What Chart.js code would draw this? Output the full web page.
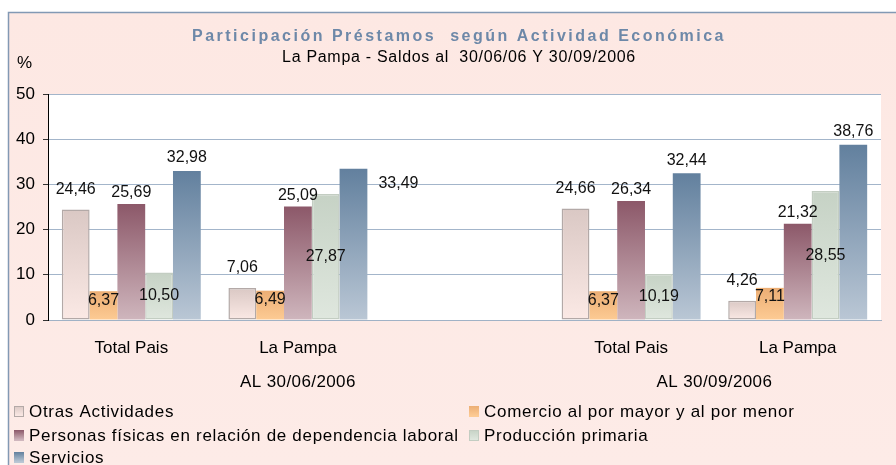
<!DOCTYPE html>
<html>
<head>
<meta charset="utf-8">
<script src="https://cdn.jsdelivr.net/npm/chart.js@4.4.1/dist/chart.umd.min.js"></script>
<style>
  html, body { margin: 0; padding: 0; background: #ffffff; }
  canvas { display: block; }
</style>
</head>
<body>
<canvas id="c" width="896" height="465"></canvas>
<script>
// ---- data ----
const categories = ['Total Pais', 'La Pampa', '', 'Total Pais', 'La Pampa'];
const periodLabels = ['AL 30/06/2006', 'AL 30/09/2006'];
const seriesNames = [
  'Otras Actividades',
  'Comercio al por mayor y al por menor',
  'Personas físicas en relación de dependencia laboral',
  'Producción primaria',
  'Servicios'
];
const otrasActividades = [24.46, 7.06, null, 24.66, 4.26];
const comercio        = [6.37, 6.49, null, 6.37, 7.11];
const personasFisicas = [25.69, 25.09, null, 26.34, 21.32];
const produccion      = [10.50, 27.87, null, 10.19, 28.55];
const servicios       = [32.98, 33.49, null, 32.44, 38.76];
const yTicks = [0, 10, 20, 30, 40, 50];
const titleText = 'Participación Préstamos  según Actividad Económica';
const subtitleText = 'La Pampa - Saldos al  30/06/06 Y 30/09/2006';
const yUnit = '%';

const FONT = '"Liberation Sans", Arial, sans-serif';

function grad(top, bottom) {
  return (c) => {
    const chart = c.chart;
    const ys = chart.scales && chart.scales.y;
    if (!ys || !chart.chartArea || c.raw == null) return bottom;
    const y0 = ys.getPixelForValue(c.raw);
    const y1 = ys.getPixelForValue(0);
    if (!isFinite(y0) || !isFinite(y1) || y0 === y1) return bottom;
    const g = chart.ctx.createLinearGradient(0, y0, 0, y1);
    g.addColorStop(0, top);
    g.addColorStop(1, bottom);
    return g;
  };
}

const styles = [
  { top: '#dac8c4', bottom: '#fbe9e5', border: '#b3a9a7', bw: 1.5, anchor: 'above', off: 20 },
  { top: '#ecae74', bottom: '#fdcb94', border: 'rgba(0,0,0,0)', bw: 0, anchor: 'insideTop', off: 9 },
  { top: '#8c5869', bottom: '#cfb6bd', border: 'rgba(0,0,0,0)', bw: 0, anchor: 'above', off: 11 },
  { top: '#c6d2c5', bottom: '#dfe7de', border: '#c3cdc2', bw: 1.5, anchor: 'center', off: 0 },
  { top: '#62809e', bottom: '#bac7d5', border: 'rgba(0,0,0,0)', bw: 0, anchor: 'above', off: 13 }
];
const seriesData = [otrasActividades, comercio, personasFisicas, produccion, servicios];

const datasets = seriesData.map((d, i) => ({
  label: seriesNames[i],
  data: d,
  backgroundColor: grad(styles[i].top, styles[i].bottom),
  borderColor: styles[i].border,
  borderWidth: styles[i].bw,
  borderSkipped: false,
  categoryPercentage: 0.834,
  barPercentage: 1.0
}));

const framePlugin = {
  id: 'frame',
  beforeDraw(chart) {
    const ctx = chart.ctx;
    const W = chart.width, H = chart.height;
    ctx.save();
    ctx.fillStyle = '#ffffff';
    ctx.fillRect(0, 0, W, H);
    const g = ctx.createLinearGradient(0, 12, 0, H);
    g.addColorStop(0, '#fde8e3');
    g.addColorStop(1, '#fdebe7');
    ctx.fillStyle = g;
    ctx.fillRect(8, 12, W - 8, H - 12);
    ctx.strokeStyle = '#8299b4';
    ctx.lineWidth = 1.5;
    ctx.beginPath();
    ctx.moveTo(8.5, H + 2);
    ctx.lineTo(8.5, 12.5);
    ctx.lineTo(W + 2, 12.5);
    ctx.stroke();
    const a = chart.chartArea;
    ctx.fillStyle = '#ffffff';
    ctx.fillRect(a.left, a.top, a.right - a.left, a.bottom - a.top);
    ctx.restore();
  },
  afterDraw(chart) {
    const ctx = chart.ctx;
    ctx.save();
    // title
    ctx.textBaseline = 'middle';
    ctx.textAlign = 'center';
    ctx.fillStyle = '#6d88a8';
    ctx.font = 'bold 16px ' + FONT;
    ctx.letterSpacing = '2.5px';
    ctx.fillText(titleText, 459, 37);
    ctx.fillStyle = '#000000';
    ctx.font = '16px ' + FONT;
    ctx.letterSpacing = '0.7px';
    ctx.fillText(subtitleText, 459, 58);
    ctx.letterSpacing = '0px';
    // unit
    ctx.textAlign = 'left';
    ctx.font = '17px ' + FONT;
    ctx.fillText(yUnit, 17, 63);
    // period labels
    const xs = chart.scales.x;
    ctx.textAlign = 'center';
    ctx.letterSpacing = '0.4px';
    const p1 = xs.getPixelForValue(1);
    const p2 = (xs.getPixelForValue(3) + xs.getPixelForValue(4)) / 2;
    ctx.fillText(periodLabels[0], p1, 382);
    ctx.fillText(periodLabels[1], p2, 382);
    // legend
    const pos = [
      [14, 411], [469, 411],
      [14, 435], [469, 435],
      [14, 457]
    ];
    ctx.textAlign = 'left';
    ctx.letterSpacing = '0.7px';
    chart.data.datasets.forEach((ds, i) => {
      const [x, y] = pos[i];
      const s = styles[i];
      const g = ctx.createLinearGradient(0, y - 5, 0, y + 5);
      g.addColorStop(0, s.top);
      g.addColorStop(1, s.bottom);
      ctx.fillStyle = g;
      ctx.fillRect(x, y - 5, 10, 11);
      if (s.bw) {
        ctx.strokeStyle = s.border;
        ctx.lineWidth = 1;
        ctx.strokeRect(x + 0.5, y - 4.5, 9, 10);
      }
      ctx.fillStyle = '#000000';
      ctx.fillText(ds.label, x + 15, y + 1);
    });
    ctx.restore();
  }
};

const labelPlugin = {
  id: 'valueLabels',
  afterDatasetsDraw(chart, args, opts) {
    const ctx = chart.ctx;
    ctx.save();
    ctx.font = '16px ' + FONT;
    ctx.fillStyle = '#111111';
    ctx.textAlign = 'center';
    ctx.textBaseline = 'middle';
    chart.data.datasets.forEach((ds, i) => {
      const meta = chart.getDatasetMeta(i);
      const s = styles[i];
      meta.data.forEach((bar, j) => {
        const v = ds.data[j];
        if (v == null) return;
        let x = bar.x, y;
        if (s.anchor === 'above') y = bar.y - s.off;
        else if (s.anchor === 'insideTop') y = bar.y + s.off;
        else y = (bar.y + bar.base) / 2;
        const n = (opts.nudges || {})[i + ':' + j];
        if (n) { x += n[0]; y += n[1]; }
        ctx.fillText(v.toFixed(2).replace('.', ','), x, y);
      });
    });
    ctx.restore();
  }
};

new Chart(document.getElementById('c'), {
  type: 'bar',
  data: { labels: categories, datasets },
  plugins: [framePlugin, labelPlugin],
  options: {
    responsive: false,
    animation: false,
    devicePixelRatio: 1,
    layout: { padding: { top: 94, left: 0, right: 15, bottom: 0 }, autoPadding: false },
    plugins: {
      legend: { display: false },
      title: { display: false },
      tooltip: { enabled: false },
      valueLabels: { nudges: { '4:1': [45, 28] } }
    },
    scales: {
      x: {
        type: 'category',
        grid: { display: false },
        border: { display: true, color: '#a0b2c6', width: 1 },
        ticks: { font: { size: 17, family: FONT }, color: '#000', padding: 10, maxRotation: 0, autoSkip: false },
        afterFit: (s) => { s.height = 145; }
      },
      y: {
        min: 0, max: 50,
        afterBuildTicks: (s) => { s.ticks = yTicks.map(v => ({ value: v })); },
        ticks: { font: { size: 17, family: FONT }, color: '#000', padding: 8 },
        grid: { color: '#a3b5ca', lineWidth: 1, tickLength: 5, tickColor: '#333' },
        border: { display: true, color: '#000', width: 1 },
        afterFit: (s) => { s.width = 48; }
      }
    }
  }
});
</script>
</body>
</html>
